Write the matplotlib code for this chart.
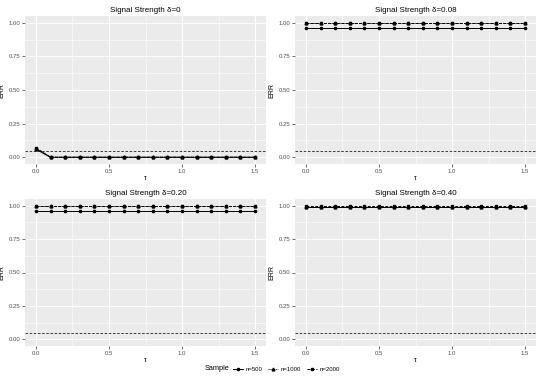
import matplotlib
matplotlib.use("Agg")
import matplotlib.pyplot as plt
from matplotlib.lines import Line2D

plt.rcParams['font.family'] = ['Liberation Sans', 'DejaVu Sans']

tau = [0.0, 0.1, 0.2, 0.3, 0.4, 0.5, 0.6, 0.7, 0.8, 0.9, 1.0, 1.1, 1.2, 1.3, 1.4, 1.5]
titles = ["Signal Strength δ=0", "Signal Strength δ=0.08",
          "Signal Strength δ=0.20", "Signal Strength δ=0.40"]
samples = ["n=500", "n=1000", "n=2000"]

# ERR values per panel, per sample size
err_d0 = {
    "n=500":  [0.060] + [0.0] * 15,
    "n=1000": [0.065] + [0.0] * 15,
    "n=2000": [0.070] + [0.0] * 15,
}
err_d008 = {
    "n=500":  [0.96] * 16,
    "n=1000": [0.995] * 16,
    "n=2000": [1.0] * 16,
}
err_d020 = {
    "n=500":  [0.96] * 16,
    "n=1000": [0.995] * 16,
    "n=2000": [1.0] * 16,
}
err_d040 = {
    "n=500":  [0.99] * 16,
    "n=1000": [0.99] * 16,
    "n=2000": [0.995] * 16,
}
panels = [err_d0, err_d008, err_d020, err_d040]
alpha_level = 0.05

styles = {
    "n=500":  dict(linestyle='-', marker='o', markersize=1.6),
    "n=1000": dict(linestyle=(0, (1, 1)), marker='^', markersize=2.0),
    "n=2000": dict(linestyle=(0, (3, 1.5)), marker='s', markersize=1.9),
}

W, H = 540, 383
fig = plt.figure(figsize=(W / 100, H / 100), dpi=100)

# panel rects in pixel coords: left, top, right, bottom
rects = [
    (25, 16, 266, 164),
    (295, 16, 536, 164),
    (25, 199, 266, 346),
    (295, 199, 536, 346),
]

grey_txt = '#4D4D4D'
for i, (rect, data) in enumerate(zip(rects, panels)):
    l, t, r, b = rect
    ax = fig.add_axes([l / W, 1 - b / H, (r - l) / W, (b - t) / H])
    ax.set_facecolor('#EBEBEB')
    for s in ax.spines.values():
        s.set_visible(False)
    ax.set_xlim(-0.075, 1.575)
    ax.set_ylim(-0.05, 1.05)
    ax.set_xticks([0.0, 0.5, 1.0, 1.5])
    ax.set_xticklabels(["0.0", "0.5", "1.0", "1.5"])
    ax.set_yticks([0.0, 0.25, 0.5, 0.75, 1.0])
    ax.set_yticklabels(["0.00", "0.25", "0.50", "0.75", "1.00"])
    ax.set_xticks([0.25, 0.75, 1.25], minor=True)
    ax.set_yticks([0.125, 0.375, 0.625, 0.875], minor=True)
    ax.tick_params(which='major', length=2, width=0.5, color='#333333',
                   labelsize=4.3, labelcolor=grey_txt, pad=1.5)
    ax.tick_params(which='minor', length=0)
    ax.grid(which='major', color='white', linewidth=0.8)
    ax.grid(which='minor', color='white', linewidth=0.4)
    ax.set_axisbelow(True)
    ax.set_title(titles[i], fontsize=5.8, pad=3)
    ax.set_xlabel("τ", fontsize=5, labelpad=1)
    ax.set_ylabel("ERR", fontsize=5, labelpad=2)
    ax.axhline(alpha_level, color='#222222', linestyle=(0, (3, 2)), linewidth=0.6)
    for sname in samples:
        ax.plot(tau, data[sname], color='black', linewidth=0.7, **styles[sname])

# legend
legend_y = 1 - 369 / H
fig.text(205 / W, legend_y, "Sample", fontsize=5.3, ha='left', va='center')
handles = [Line2D([], [], color='black', linewidth=0.7, **styles[s]) for s in samples]
leg = fig.legend(handles, samples, loc='center left', bbox_to_anchor=(233 / W, legend_y),
                 ncol=3, frameon=False, fontsize=4.3,
                 handlelength=1.6, handletextpad=0.5, columnspacing=1.0,
                 borderpad=0, borderaxespad=0)

fig.savefig("out.png", dpi=100)
